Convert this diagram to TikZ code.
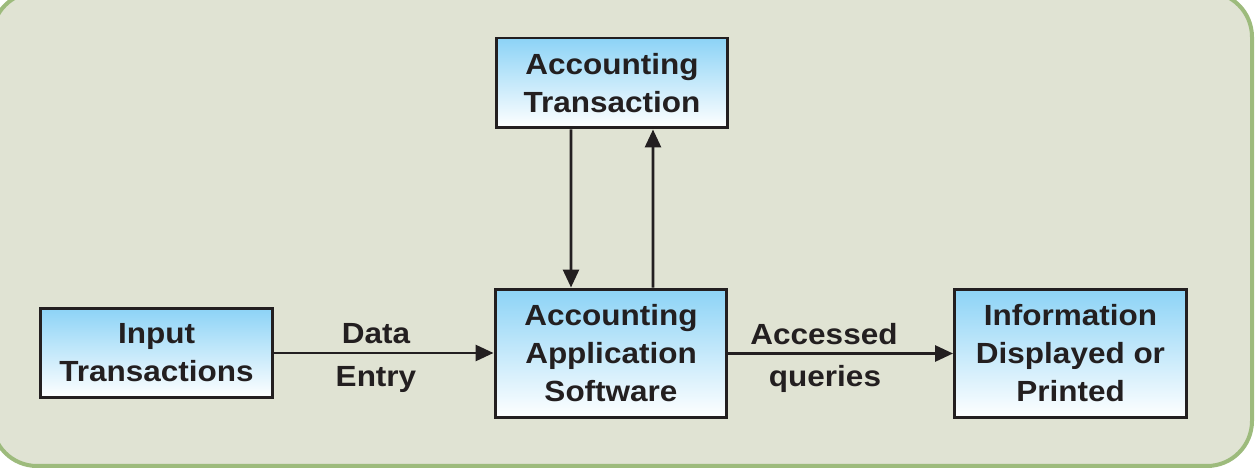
\documentclass[tikz,border=0pt]{standalone}
\usepackage{fontspec}
\newfontfamily\diagfont[FakeStretch=1.08]{Liberation Sans}
\usetikzlibrary{arrows.meta}
\definecolor{panelbg}{HTML}{E0E3D3}
\definecolor{panelline}{HTML}{9DBB7C}
\definecolor{boxtop}{HTML}{8CD3F6}
\definecolor{ink}{HTML}{231F20}

\begin{document}
\begin{tikzpicture}[x=0.02cm, y=-0.02cm,
		txt/.style={font=\diagfont\bfseries\fontsize{16.6}{21.6}\selectfont, text=ink, align=center},
		unit/.style={txt, draw=ink, line width=1.7pt, top color=boxtop, bottom color=white, inner sep=0, minimum width=4.64cm},
		flow/.style={draw=ink, line width=1.6pt, -{Triangle[length=3.6mm,width=3.2mm]}}]
	\useasboundingbox (0,0) rectangle (1259,476);
	\draw [line width=0.08cm, draw=panelline, fill=panelbg, rounded corners=0.9cm] (-8,-8) rectangle (1252,466);

	\node [unit, minimum height=1.8cm] at (612,83) (trans) {Accounting\\Transaction};
	\node [unit, minimum height=1.8cm] at (156.5,353) (input) {Input\\Transactions};
	\node [unit, minimum height=2.58cm] at (611,353.5) (soft) {Accounting\\Application\\Software};
	\node [unit, minimum height=2.58cm] at (1070.5,353.5) (info) {Information\\Displayed or\\Printed};

	\draw [flow] (input.east) -- (input.east -| soft.west);
	\draw [flow] (soft.east) -- (info.west);
	\draw [flow] ([xshift=-0.82cm]trans.south) -- ([xshift=-0.8cm]soft.north);
	\draw [flow] ([xshift=0.84cm]soft.north) -- ([xshift=0.82cm]trans.south);

	\foreach \x/\y/\t/\n in {376/334/Data/lda, 376/379/Entry/len, 824/334/Accessed/lacc, 825/379/queries/lqu}
		\node [txt] at (\x,\y) (\n) {\t};
\end{tikzpicture}
\end{document}
